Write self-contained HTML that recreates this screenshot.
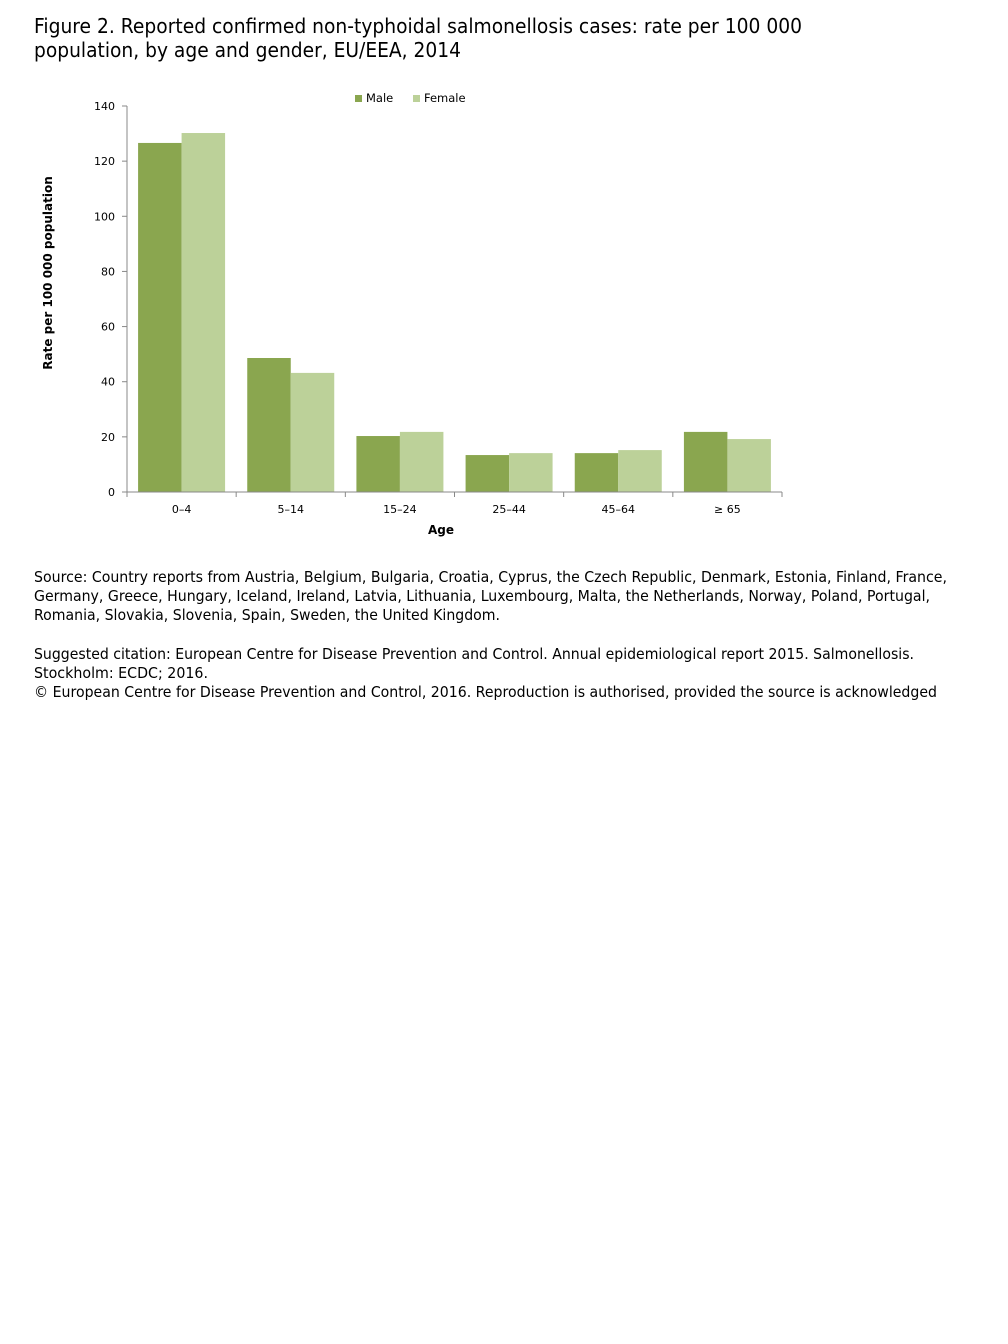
<!DOCTYPE html>
<html><head><meta charset="utf-8"><style>
html,body{margin:0;padding:0;background:#fff;}
svg{display:block;font-family:"DejaVu Sans","Liberation Sans",sans-serif;}
</style></head><body>
<svg id="page" width="1008" height="1344" viewBox="0 0 1008 1344">
<g font-size="20" fill="#000">
<text x="34" y="33" textLength="768" lengthAdjust="spacingAndGlyphs">Figure 2. Reported confirmed non-typhoidal salmonellosis cases: rate per 100 000</text>
<text x="34" y="57" textLength="427" lengthAdjust="spacingAndGlyphs">population, by age and gender, EU/EEA, 2014</text>
</g>
<g id="chart"></g>
<g font-size="15.5" fill="#000">
<text x="34" y="582" textLength="913" lengthAdjust="spacingAndGlyphs">Source: Country reports from Austria, Belgium, Bulgaria, Croatia, Cyprus, the Czech Republic, Denmark, Estonia, Finland, France,</text>
<text x="34" y="601" textLength="896" lengthAdjust="spacingAndGlyphs">Germany, Greece, Hungary, Iceland, Ireland, Latvia, Lithuania, Luxembourg, Malta, the Netherlands, Norway, Poland, Portugal,</text>
<text x="34" y="620" textLength="466" lengthAdjust="spacingAndGlyphs">Romania, Slovakia, Slovenia, Spain, Sweden, the United Kingdom.</text>
</g>
<g font-size="15.5" fill="#000">
<text x="34" y="659" textLength="880" lengthAdjust="spacingAndGlyphs">Suggested citation: European Centre for Disease Prevention and Control. Annual epidemiological report 2015. Salmonellosis.</text>
<text x="34" y="678" textLength="174" lengthAdjust="spacingAndGlyphs">Stockholm: ECDC; 2016.</text>
<text x="34" y="697" textLength="903" lengthAdjust="spacingAndGlyphs">© European Centre for Disease Prevention and Control, 2016. Reproduction is authorised, provided the source is acknowledged</text>
</g>
</svg>
<script>
const categories = ["0\u20134","5\u201314","15\u201324","25\u201344","45\u201364","\u2265 65"];
const maleValues = [126.6, 48.6, 20.3, 13.4, 14.1, 21.8];
const femaleValues = [130.2, 43.2, 21.8, 14.1, 15.2, 19.2];
const yTicks = [0,20,40,60,80,100,120,140];

const NS="http://www.w3.org/2000/svg";
const g=document.getElementById('chart');
const X0=127,X1=782,Y0=492,Y1=106,YMAX=140;
const y=v=>Y0-(v/YMAX)*(Y0-Y1);
const bandW=(X1-X0)/categories.length;
const xb=i=>X0+i*bandW;
function mk(tag,attrs,parent){const e=document.createElementNS(NS,tag);for(const k in attrs)e.setAttribute(k,attrs[k]);(parent||g).appendChild(e);return e;}
const barW=43.5, pad=(bandW-2*barW)/2;
categories.forEach((c,i)=>{
  const m=mk('rect',{x:xb(i)+pad,y:y(maleValues[i]),width:barW,height:Y0-y(maleValues[i]),fill:'#8aa64f'});
  
  
  const f=mk('rect',{x:xb(i)+pad+barW,y:y(femaleValues[i]),width:barW,height:Y0-y(femaleValues[i]),fill:'#bcd199'});
  
  
  const t=mk('text',{x:xb(i)+bandW/2,y:513,'text-anchor':'middle','font-size':11,fill:'#000'});
  t.textContent=c;
  
  
});
for(let i=0;i<=categories.length;i++){mk('line',{x1:xb(i),x2:xb(i),y1:Y0,y2:Y0+5,stroke:'#888'});}
yTicks.forEach(v=>{
  mk('line',{x1:X0-5,x2:X0,y1:y(v),y2:y(v),stroke:'#888'});
  const t=mk('text',{x:115,y:y(v)+4,'text-anchor':'end','font-size':11,fill:'#000'});
  t.textContent=v;
  
  
});
const ya=mk('line',{x1:X0,x2:X0,y1:Y1,y2:Y0,stroke:'#888'});


const xa=mk('line',{x1:X0,x2:X1,y1:Y0,y2:Y0,stroke:'#888'});


const xt=mk('text',{x:441,y:534,'text-anchor':'middle','font-size':12,'font-weight':'bold'});
xt.textContent='Age';


const yt=mk('text',{x:0,y:0,'text-anchor':'middle','font-size':12,'font-weight':'bold',transform:'translate(52,273) rotate(-90)'});
yt.textContent='Rate per 100 000 population';


const lg=mk('g',{});


mk('rect',{x:355,y:95,width:7,height:7,fill:'#8aa64f'},lg);
const lm=mk('text',{x:366,y:102,'font-size':11.5},lg);lm.textContent='Male';


mk('rect',{x:413,y:95,width:7,height:7,fill:'#bcd199'},lg);
const lf=mk('text',{x:424,y:102,'font-size':11.5},lg);lf.textContent='Female';


</script>
</body></html>
